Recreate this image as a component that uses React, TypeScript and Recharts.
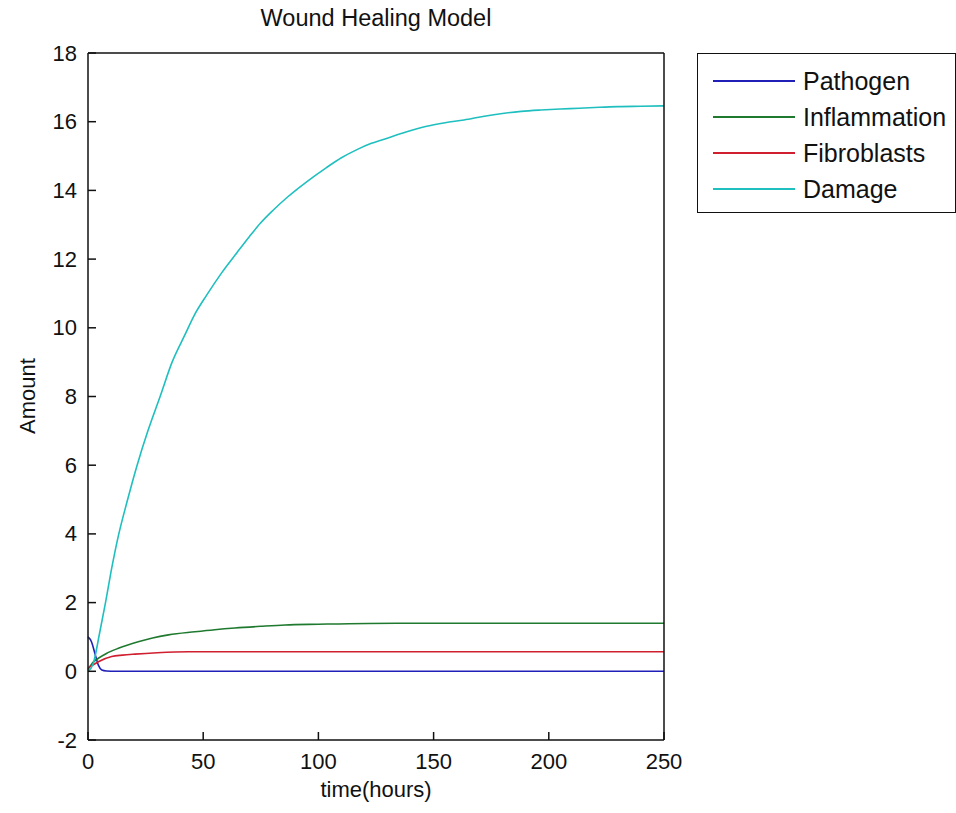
import React from 'react';
import { LineChart, Line, XAxis, YAxis } from 'recharts';

// values (time in hours, amount)
const pathogenTime = [0, 1.5, 3, 4.5, 6, 8, 12, 250];
const pathogenAmount = [1.0, 0.86, 0.52, 0.18, 0.04, 0.01, 0, 0];

const inflammationTime = [0, 2, 4.5, 8, 13.2, 21.8, 28, 34.9, 46.4, 55, 63.8, 75, 85.5, 100, 134, 180, 250];
const inflammationAmount = [0.05, 0.25, 0.38, 0.52, 0.67, 0.86, 0.97, 1.06, 1.15, 1.21, 1.26, 1.31, 1.35, 1.37, 1.4, 1.4, 1.4];

const fibroblastTime = [0, 2, 4.5, 10.3, 15, 20.4, 30, 43.5, 60, 250];
const fibroblastAmount = [0.1, 0.18, 0.28, 0.43, 0.47, 0.5, 0.54, 0.57, 0.57, 0.57];

const damageTime = [0, 2.3, 5, 7.6, 10, 13.2, 17, 21.1, 26, 31.3, 36.5, 42.1, 46, 51.5, 58, 64.8, 70, 74.9, 80, 86.5, 94.9, 103.2, 110, 116.5, 123, 129.9, 138, 146.5, 155, 163.2, 172, 179.9, 188, 196.5, 205, 213.2, 222, 229.9, 240, 250];
const damageAmount = [0, 0.23, 1.1, 2.0, 2.9, 3.95, 4.95, 5.95, 7.0, 8.0, 9.0, 9.8, 10.35, 10.95, 11.6, 12.2, 12.65, 13.05, 13.4, 13.8, 14.25, 14.65, 14.95, 15.18, 15.37, 15.52, 15.7, 15.86, 15.97, 16.05, 16.16, 16.24, 16.3, 16.34, 16.37, 16.39, 16.42, 16.44, 16.45, 16.46];

const xTicks = [0, 50, 100, 150, 200, 250];
const yTicks = [-2, 0, 2, 4, 6, 8, 10, 12, 14, 16, 18];

const toPoints = (ts: number[], vs: number[]) => ts.map((t, i) => ({ t, v: vs[i] }));

const series = [
  { name: 'Pathogen', color: '#2020b8', data: toPoints(pathogenTime, pathogenAmount) },
  { name: 'Inflammation', color: '#1f7a2f', data: toPoints(inflammationTime, inflammationAmount) },
  { name: 'Fibroblasts', color: '#d02030', data: toPoints(fibroblastTime, fibroblastAmount) },
  { name: 'Damage', color: '#1fbfbf', data: toPoints(damageTime, damageAmount) },
];

const FONT = '"Liberation Sans", Arial, sans-serif';
const FS = 22;
const AX = { stroke: '#111', strokeWidth: 1.5 };
const TICK = { stroke: '#111', strokeWidth: 1.5 };
const TL = -8; // negative size: tick marks point into the plot

const BottomLabel = ({ x, y, payload }: any) => (
  <text x={x} y={y} textAnchor="middle" dominantBaseline="central" fontSize={FS} fontFamily={FONT} fill="#111">
    {payload.value}
  </text>
);

const LeftLabel = ({ x, y, payload }: any) => (
  <text x={x} y={y} textAnchor="end" dominantBaseline="central" fontSize={FS} fontFamily={FONT} fill="#111">
    {payload.value}
  </text>
);

const App: React.FC = () => {
  return (
    <div style={{ position: 'absolute', left: 0, top: 0, width: 956, height: 813, background: '#fff', fontFamily: FONT }}>
      <LineChart width={956} height={813} margin={{ top: 52, right: 291, bottom: 72, left: 0 }}>
        <XAxis
          dataKey="t"
          type="number"
          domain={[0, 250]}
          ticks={xTicks}
          interval={0}
          height={1}
          tickSize={TL}
          tickMargin={29}
          tickLine={TICK}
          tick={BottomLabel}
          axisLine={AX}
        />
        <XAxis
          xAxisId="top"
          orientation="top"
          dataKey="t"
          type="number"
          domain={[0, 250]}
          ticks={xTicks}
          interval={0}
          height={1}
          tickSize={TL}
          tickLine={TICK}
          tick={false}
          axisLine={AX}
        />
        <YAxis
          type="number"
          domain={[-2, 18]}
          ticks={yTicks}
          interval={0}
          width={88}
          tickSize={TL}
          tickMargin={19}
          tickLine={TICK}
          tick={LeftLabel}
          axisLine={AX}
        />
        <YAxis
          yAxisId="right"
          orientation="right"
          type="number"
          domain={[-2, 18]}
          ticks={yTicks}
          interval={0}
          width={1}
          tickSize={TL}
          tickLine={TICK}
          tick={false}
          axisLine={AX}
        />
        {series.map((s) => (
          <Line
            key={s.name}
            data={s.data}
            dataKey="v"
            name={s.name}
            type="monotone"
            stroke={s.color}
            strokeWidth={1.6}
            dot={false}
            isAnimationActive={false}
          />
        ))}
      </LineChart>

      <div style={{ position: 'absolute', left: 0, width: 752, top: 5, textAlign: 'center', fontSize: 23.5, lineHeight: '26px', color: '#111' }}>
        Wound Healing Model
      </div>
      <div style={{ position: 'absolute', left: 0, width: 752, top: 778, textAlign: 'center', fontSize: FS, lineHeight: '24px', color: '#111' }}>
        time(hours)
      </div>
      <div
        style={{
          position: 'absolute',
          left: 28,
          top: 396,
          transform: 'translate(-50%, -50%) rotate(-90deg)',
          fontSize: FS,
          lineHeight: '24px',
          color: '#111',
          whiteSpace: 'nowrap',
        }}
      >
        Amount
      </div>

      <div
        style={{
          position: 'absolute',
          left: 697,
          top: 53,
          width: 257,
          height: 149,
          border: '1px solid #111',
          background: '#fff',
          paddingTop: 9,
          boxSizing: 'content-box',
        }}
      >
        {series.map((s) => (
          <div key={s.name} style={{ display: 'flex', alignItems: 'center', height: 36 }}>
            <div style={{ marginLeft: 15, width: 82, height: 2, background: s.color }} />
            <span style={{ marginLeft: 8, fontSize: 25, color: '#111', whiteSpace: 'nowrap' }}>{s.name}</span>
          </div>
        ))}
      </div>
    </div>
  );
};

export default App;
